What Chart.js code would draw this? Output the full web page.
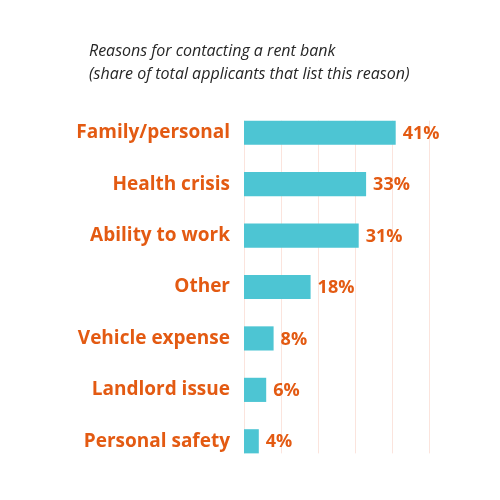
<!DOCTYPE html>
<html>
<head>
<meta charset="utf-8">
<script src="https://cdn.jsdelivr.net/npm/chart.js@4/dist/chart.umd.min.js"></script>
<style>
  html, body { margin: 0; padding: 0; background: #ffffff; }
  #wrap { width: 500px; height: 500px; }
</style>
</head>
<body>
<div id="wrap"><canvas id="c" width="500" height="500"></canvas></div>
<script>
const categories = ["Family/personal", "Health crisis", "Ability to work", "Other", "Vehicle expense", "Landlord issue", "Personal safety"];
const shares = [41, 33, 31, 18, 8, 6, 4];
const xTicks = [0, 10, 20, 30, 40, 50];
const titleLines = ["Reasons for contacting a rent bank", "(share of total applicants that list this reason)"];

const ORANGE = "#E35A12";
const TEAL = "#4DC5D3";
const GRID = "#FBE4DD";

const titlePlugin = {
  id: 'titleText',
  afterDraw(chart) {
    const ctx = chart.ctx;
    ctx.save();
    ctx.fillStyle = "#262626";
    ctx.font = "italic 16px 'Open Sans', sans-serif";
    ctx.textAlign = "left";
    ctx.textBaseline = "alphabetic";
    ctx.fillText(titleLines[0], 89, 56);
    ctx.fillText(titleLines[1], 89, 79);
    ctx.restore();
  }
};

const gridPlugin = {
  id: 'barGrid',
  beforeDatasetsDraw(chart) {
    const ctx = chart.ctx;
    const xs = chart.scales.x;
    const meta = chart.getDatasetMeta(0);
    const first = meta.data[0], last = meta.data[meta.data.length - 1];
    const top = first.y - first.height / 2;
    const bottom = last.y + last.height / 2;
    ctx.save();
    ctx.strokeStyle = GRID;
    ctx.lineWidth = 1;
    xTicks.forEach(v => {
      const x = Math.round(xs.getPixelForValue(v)) + 0.5;
      ctx.beginPath();
      ctx.moveTo(x, top);
      ctx.lineTo(x, bottom);
      ctx.stroke();
    });
    ctx.restore();
  }
};

const valuePlugin = {
  id: 'valueLabels',
  afterDatasetsDraw(chart) {
    const ctx = chart.ctx;
    const meta = chart.getDatasetMeta(0);
    ctx.save();
    ctx.fillStyle = ORANGE;
    ctx.font = "700 18px 'Open Sans', sans-serif";
    ctx.textAlign = "left";
    ctx.textBaseline = "middle";
    meta.data.forEach((bar, i) => {
      ctx.fillText(shares[i] + "%", bar.x + 7, bar.y + 1);
    });
    ctx.restore();
  }
};

new Chart(document.getElementById('c'), {
  type: 'bar',
  data: {
    labels: categories,
    datasets: [{
      data: shares,
      backgroundColor: TEAL,
      borderWidth: 0,
      categoryPercentage: 1,
      barPercentage: 0.47
    }]
  },
  options: {
    indexAxis: 'y',
    responsive: false,
    animation: false,
    devicePixelRatio: 1,
    layout: { padding: { left: 0, right: 71, top: 107, bottom: 33 } },
    plugins: { legend: { display: false }, tooltip: { enabled: false }, title: { display: false } },
    scales: {
      x: {
        min: 0, max: 50,
        afterBuildTicks(scale) { scale.ticks = xTicks.map(v => ({ value: v })); },
        afterFit(scale) { scale.height = 0; },
        grid: { display: false, drawTicks: false },
        border: { display: false },
        ticks: { display: false }
      },
      y: {
        afterFit(scale) { scale.width = 244; },
        grid: { display: false, drawTicks: false },
        border: { display: false },
        ticks: {
          color: ORANGE,
          padding: 14,
          font: { family: "'Open Sans', sans-serif", size: 19, weight: '700' }
        }
      }
    }
  },
  plugins: [gridPlugin, valuePlugin, titlePlugin]
});
</script>
</body>
</html>
